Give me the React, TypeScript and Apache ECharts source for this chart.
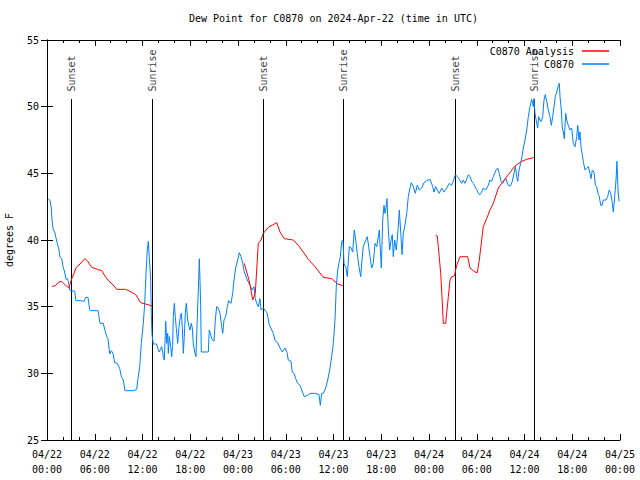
import React, { useEffect, useRef } from "react";
import * as echarts from "echarts";

const TITLE = "Dew Point for C0870 on 2024-Apr-22 (time in UTC)";
const FONT = "DejaVu Sans Mono";

// x tick labels every 6 hours from 04/22 00:00
const xTickLabels = [
  "04/22\n00:00", "04/22\n06:00", "04/22\n12:00", "04/22\n18:00",
  "04/23\n00:00", "04/23\n06:00", "04/23\n12:00", "04/23\n18:00",
  "04/24\n00:00", "04/24\n06:00", "04/24\n12:00", "04/24\n18:00",
  "04/25\n00:00",
];

// Sun events (hours since 04/22 00:00 UTC)
const sunNames = ["Sunset", "Sunrise", "Sunset", "Sunrise", "Sunset", "Sunrise"];
const sunHours = [3.079, 13.257, 27.204, 37.256, 51.33, 61.256];
const sunLineTop = 50.57;

// Observations C0870 (hours since 04/22 00:00, dew point °F)
const obsHours = [
  0.13, 0.38, 0.54, 0.63, 0.79, 0.97, 1.09, 1.29, 1.51, 1.63, 1.85, 2.01, 2.22, 2.39, 2.55, 2.68, 2.85, 3.05, 3.48, 3.64,
  4.23, 4.65, 4.86, 5.15, 5.37, 5.49, 6.41, 6.53, 6.66, 7.07, 7.25, 7.5, 7.66, 7.88, 8.08, 8.29, 8.51, 8.83, 9.14, 9.34,
  9.59, 9.8, 10.93, 11.27, 11.43, 11.65, 11.85, 12.1, 12.28, 12.44, 12.6, 12.73, 12.85, 13.03, 13.11, 13.19, 13.36, 13.78, 13.99, 14.11,
  14.41, 14.54, 14.61, 14.74, 14.83, 14.92, 15.04, 15.17, 15.24, 15.37, 15.54, 15.67, 15.79, 15.87, 16.0, 16.12, 16.3, 16.42, 16.59, 16.75,
  16.88, 17.0, 17.13, 17.25, 17.38, 17.5, 17.68, 17.84, 17.97, 18.13, 18.26, 18.38, 18.56, 18.72, 18.89, 19.06, 19.14, 19.23, 19.31, 19.39,
  20.27, 20.39, 20.52, 20.7, 20.98, 21.15, 21.32, 21.52, 21.74, 21.95, 22.08, 22.24, 22.45, 22.66, 22.83, 23.12, 23.33, 23.5, 23.71, 23.96,
  24.16, 24.38, 24.59, 24.79, 25.01, 25.17, 25.38, 25.6, 25.8, 26.01, 26.17, 26.35, 26.55, 26.76, 26.89, 27.18, 27.39, 27.68, 27.9, 28.24,
  28.44, 28.65, 28.99, 29.28, 29.57, 29.91, 30.16, 30.32, 30.66, 30.82, 31.07, 31.25, 31.5, 31.79, 32.0, 32.33, 32.76, 33.05, 33.68, 34.18,
  34.34, 34.52, 34.72, 35.02, 35.27, 35.52, 35.77, 35.98, 36.19, 36.35, 36.53, 36.73, 36.86, 37.03, 37.19, 37.32, 37.57, 37.73, 37.99, 38.2,
  38.41, 38.61, 38.79, 38.99, 39.2, 39.42, 39.58, 39.74, 40.0, 40.25, 40.42, 40.59, 40.8, 41.0, 41.22, 41.43, 41.63, 41.76, 41.84, 42.01,
  42.18, 42.35, 42.47, 42.6, 42.72, 42.89, 43.06, 43.23, 43.39, 43.51, 43.69, 43.89, 44.11, 44.27, 44.48, 44.61, 44.77, 44.98, 45.2, 45.4,
  45.61, 45.78, 46.03, 46.28, 46.53, 46.78, 47.08, 47.37, 47.71, 48.13, 48.47, 48.63, 48.84, 49.04, 49.29, 49.6, 49.89, 50.23, 50.55, 50.85,
  51.05, 51.31, 51.56, 51.81, 52.11, 52.31, 52.52, 52.74, 52.94, 53.15, 53.37, 53.57, 53.78, 53.99, 54.2, 54.41, 54.62, 54.82, 55.13, 55.45,
  55.66, 55.88, 56.08, 56.42, 56.63, 56.83, 57.05, 57.26, 57.46, 57.68, 57.84, 58.05, 58.27, 58.47, 58.68, 58.85, 59.02, 59.15, 59.31, 59.52,
  59.69, 59.85, 60.06, 60.28, 60.48, 60.69, 60.9, 61.03, 61.11, 61.19, 61.32, 61.53, 61.66, 61.78, 61.95, 62.11, 62.29, 62.45, 62.61, 62.79,
  62.99, 63.2, 63.37, 63.54, 63.71, 63.87, 64.05, 64.25, 64.38, 64.46, 64.63, 64.75, 64.88, 65.0, 65.18, 65.3, 65.5, 65.72, 65.93, 66.13,
  66.35, 66.56, 66.69, 66.85, 66.97, 67.1, 67.26, 67.39, 67.6, 67.82, 68.02, 68.23, 68.36, 68.52, 68.73, 68.9, 69.07, 69.28, 69.4, 69.58,
  69.74, 69.9, 70.24, 70.45, 70.65, 70.83, 71.0, 71.16, 71.33, 71.5, 71.62, 71.75, 71.88,
];
const obsDew = [
  43.1, 42.95, 42.4, 41.5, 40.75, 40.6, 40.25, 39.75, 39.25, 38.7, 38.6, 38.0, 37.6, 37.05, 37.1, 36.9, 36.25, 36.2, 36.15, 35.45,
  35.45, 35.4, 35.7, 35.7, 34.75, 34.7, 34.7, 34.25, 33.75, 33.75, 33.3, 32.75, 32.6, 31.45, 31.7, 31.5, 30.8, 30.75, 30.35, 29.75,
  29.5, 28.7, 28.7, 28.8, 29.6, 30.5, 32.25, 33.75, 35.25, 37.5, 39.25, 39.9, 38.75, 37.0, 34.4, 32.9, 32.2, 32.2, 31.75, 31.6,
  32.0, 31.6, 31.25, 31.0, 32.4, 33.9, 32.25, 33.0, 31.5, 32.75, 32.0, 31.25, 32.1, 34.25, 35.25, 34.25, 33.0, 32.25, 33.5, 34.25,
  34.5, 33.5, 31.5, 32.75, 34.5, 35.25, 34.0, 33.5, 33.25, 33.75, 33.4, 32.25, 31.6, 31.25, 34.25, 37.0, 38.6, 36.9, 35.0, 31.6,
  31.6, 33.25, 33.0, 32.6, 32.4, 34.0, 35.0, 34.9, 34.5, 33.5, 33.0, 34.0, 34.25, 35.0, 35.45, 35.25, 36.0, 37.0, 37.9, 38.5,
  39.05, 38.75, 38.25, 37.6, 37.25, 37.0, 36.75, 36.5, 36.25, 36.5, 35.6, 35.25, 35.0, 35.6, 34.75, 34.9, 34.75, 34.5, 33.7, 33.25,
  33.0, 32.45, 32.3, 31.9, 31.6, 31.9, 31.55, 31.0, 30.9, 30.1, 29.95, 29.6, 29.25, 29.1, 28.75, 28.25, 28.35, 28.5, 28.5, 28.4,
  27.6, 28.5, 28.5, 28.9, 29.5, 30.25, 31.25, 32.25, 34.0, 36.5, 37.75, 38.4, 38.75, 39.9, 40.0, 38.25, 37.9, 37.25, 39.5, 39.4,
  39.1, 40.75, 40.0, 39.0, 38.0, 37.25, 38.5, 39.5, 39.9, 40.25, 39.5, 38.75, 37.9, 38.25, 39.75, 39.5, 40.25, 40.75, 39.75, 37.9,
  41.5, 42.6, 42.0, 42.4, 43.1, 40.75, 39.25, 40.0, 40.4, 38.75, 40.0, 39.25, 40.75, 42.25, 40.25, 38.9, 40.5, 41.1, 42.0, 43.25,
  43.9, 44.3, 44.0, 43.5, 44.1, 43.75, 43.9, 44.3, 44.45, 44.55, 44.0, 43.6, 44.0, 43.75, 43.5, 43.9, 43.6, 43.9, 44.25, 44.1,
  44.4, 44.9, 44.75, 44.55, 44.25, 44.5, 44.25, 44.55, 44.9, 44.75, 44.4, 44.25, 44.0, 43.8, 43.5, 43.4, 43.6, 43.9, 43.75, 44.1,
  44.5, 44.4, 44.75, 45.25, 45.4, 45.0, 44.4, 44.25, 44.5, 44.6, 44.25, 44.05, 44.1, 44.4, 45.0, 45.5, 44.75, 44.4, 45.25, 45.75,
  46.25, 46.9, 47.5, 48.25, 49.25, 50.0, 50.55, 50.25, 50.0, 50.6, 49.5, 48.75, 48.4, 49.25, 49.0, 48.9, 49.25, 50.5, 50.9, 50.4,
  49.75, 49.25, 48.6, 49.25, 50.0, 50.75, 51.1, 51.6, 51.75, 50.75, 49.75, 48.4, 48.1, 47.6, 49.5, 49.0, 48.6, 48.25, 48.4, 47.25,
  47.0, 47.75, 48.6, 47.5, 48.1, 47.0, 46.4, 45.9, 45.25, 45.4, 45.5, 45.0, 44.6, 45.25, 45.1, 44.1, 44.0, 43.4, 43.25, 42.6,
  42.6, 43.0, 43.0, 43.25, 43.75, 43.5, 42.9, 42.1, 43.25, 44.5, 45.9, 43.75, 42.9,
];

// Analysis C0870, three overnight segments
const anaHours1 = [0.63, 1.09, 1.63, 1.92, 2.35, 2.76, 3.05, 3.39, 3.68, 4.15, 4.74, 5.06, 5.62, 6.32, 6.87, 7.29, 7.79, 8.21, 8.76, 9.89, 10.59, 11.15, 11.77, 12.4, 12.94, 13.19];
const anaDew1 = [36.5, 36.6, 36.9, 36.85, 36.6, 36.4, 37.0, 37.5, 37.95, 38.2, 38.6, 38.45, 37.95, 37.8, 37.7, 37.3, 36.9, 36.7, 36.3, 36.3, 36.1, 35.9, 35.3, 35.2, 35.1, 35.05];
const anaHours2 = [24.79, 25.09, 25.38, 25.63, 25.85, 26.17, 26.35, 26.55, 26.89, 27.18, 27.81, 28.86, 29.28, 29.82, 30.95, 31.58, 32.21, 32.83, 33.68, 34.72, 35.77, 36.53, 37.03, 37.19];
const anaDew2 = [38.25, 37.6, 37.0, 36.25, 35.5, 36.0, 37.75, 39.75, 40.0, 40.5, 40.95, 41.3, 40.6, 40.1, 40.0, 39.6, 39.1, 38.55, 38.0, 37.2, 37.1, 36.7, 36.6, 36.6];
const anaHours3 = [48.84, 49.04, 49.17, 49.47, 49.63, 49.8, 50.1, 50.22, 50.43, 50.64, 50.85, 51.18, 51.48, 51.89, 52.86, 53.15, 53.78, 54.07, 54.32, 54.62, 54.82, 55.25, 55.66, 56.08, 56.71, 57.14, 57.97, 58.81, 59.65, 60.28, 60.98, 61.19];
const anaDew3 = [40.35, 40.3, 39.5, 37.5, 35.75, 33.75, 33.75, 34.5, 35.75, 37.0, 37.25, 37.3, 38.1, 38.75, 38.75, 37.9, 37.6, 37.55, 38.5, 40.0, 41.0, 41.6, 42.25, 42.75, 43.9, 44.25, 44.9, 45.55, 45.9, 46.05, 46.15, 46.2];

export default function App() {
  const ref = useRef<HTMLDivElement>(null);

  useEffect(() => {
    if (!ref.current) return;
    const chart = echarts.init(ref.current, undefined, { renderer: "svg" });

    const obsData = obsHours.map((h, i) => [h, obsDew[i]]);
    const segs = [
      [anaHours1, anaDew1],
      [anaHours2, anaDew2],
      [anaHours3, anaDew3],
    ];
    const anaData: any[] = [];
    segs.forEach(([hs, vs], k) => {
      if (k > 0) anaData.push([hs[0] - 0.01, null]);
      hs.forEach((h, i) => anaData.push([h, vs[i]]));
    });
    const evData: any[] = [];
    sunHours.forEach((h, i) => {
      if (i > 0) evData.push([h - 0.01, null]);
      evData.push([h, 25], [h, sunLineTop]);
    });
    const evLabelData = sunHours.map((h, i) => ({ value: [h, sunLineTop], name: sunNames[i] }));

    const txt = { fontFamily: FONT, fontSize: 10, color: "#000" };
    const axisLine = { show: true, lineStyle: { color: "#000", width: 1 } };

    chart.setOption({
      animation: false,
      backgroundColor: "#fff",
      title: {
        text: TITLE,
        left: 189,
        top: 13,
        padding: 0,
        textStyle: { ...txt, fontWeight: "normal" },
      },
      legend: {
        data: ["C0870 Analysis", "C0870"],
        orient: "vertical",
        right: 31,
        top: 45,
        align: "right",
        padding: 0,
        icon: "rect",
        itemWidth: 27,
        itemHeight: 1.5,
        itemGap: 1,
        textStyle: { ...txt, lineHeight: 12, padding: [0, 3, 0, 0] },
      },
      grid: {
        left: 47,
        right: 20,
        top: 40,
        bottom: 40,
        containLabel: false,
        outerBoundsMode: "none",
      },
      xAxis: [
        {
          type: "value",
          min: 0,
          max: 72,
          interval: 6,
          position: "bottom",
          axisLine,
          axisTick: { show: true, inside: true, length: 6, lineStyle: { color: "#000" } },
          minorTick: { show: true, splitNumber: 3, length: 3, lineStyle: { color: "#000" } },
          splitLine: { show: false },
          axisLabel: {
            ...txt,
            margin: 7,
            lineHeight: 15,
            formatter: (v: number) => xTickLabels[Math.round(v / 6)] ?? "",
          },
        },
        {
          type: "value",
          min: 0,
          max: 72,
          interval: 6,
          position: "top",
          axisLine,
          axisTick: { show: true, inside: true, length: 6, lineStyle: { color: "#000" } },
          minorTick: { show: true, splitNumber: 3, length: 3, lineStyle: { color: "#000" } },
          splitLine: { show: false },
          axisLabel: { show: false },
        },
      ],
      yAxis: [
        {
          type: "value",
          min: 25,
          max: 55,
          interval: 5,
          position: "left",
          name: "degrees F",
          nameLocation: "middle",
          nameGap: 33,
          nameTextStyle: txt,
          axisLine,
          axisTick: { show: true, inside: true, length: 6, lineStyle: { color: "#000" } },
          splitLine: { show: false },
          axisLabel: { ...txt, margin: 8 },
        },
        {
          type: "value",
          min: 25,
          max: 55,
          interval: 5,
          position: "right",
          axisLine,
          axisTick: { show: true, inside: true, length: 6, lineStyle: { color: "#000" } },
          splitLine: { show: false },
          axisLabel: { show: false },
        },
      ],
      series: [
        {
          name: "events",
          type: "line",
          data: evData,
          symbol: "none",
          silent: true,
          connectNulls: false,
          lineStyle: { color: "#000", width: 1 },
          z: 1,
        },
        {
          name: "eventLabels",
          type: "scatter",
          data: evLabelData,
          symbolSize: 1,
          silent: true,
          itemStyle: { color: "rgba(0,0,0,0)" },
          label: {
            show: true,
            formatter: (p: any) => p.name,
            position: "top",
            distance: 7,
            rotate: 90,
            align: "left",
            verticalAlign: "middle",
            ...txt,
          },
          z: 1,
        },
        {
          name: "C0870 Analysis",
          type: "line",
          data: anaData,
          symbol: "none",
          connectNulls: false,
          color: "#ff0000",
          lineStyle: { color: "#ff0000", width: 1 },
          z: 3,
        },
        {
          name: "C0870",
          type: "line",
          data: obsData,
          symbol: "none",
          color: "#0080ff",
          lineStyle: { color: "#0080ff", width: 1 },
          z: 2,
        },
      ],
    });

    return () => chart.dispose();
  }, []);

  return <div ref={ref} style={{ width: 640, height: 480, position: "absolute", left: 0, top: 0 }} />;
}
